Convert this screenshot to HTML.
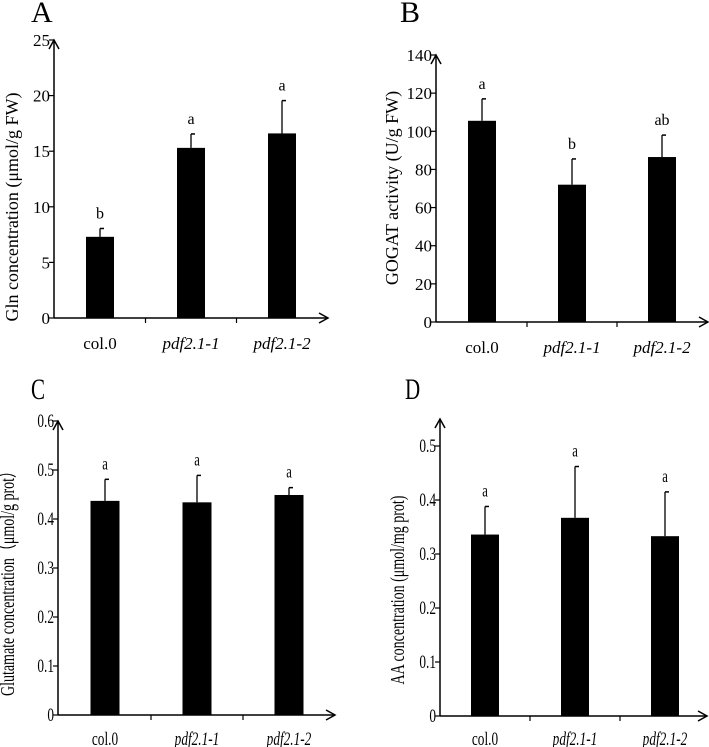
<!DOCTYPE html>
<html><head><meta charset="utf-8"><style>
html,body{margin:0;padding:0;background:#fff;}
svg{display:block;}
text{font-family:"Liberation Serif","Times New Roman",serif;}
</style></head><body>
<svg id="fig" width="709" height="747" viewBox="0 0 709 747" xmlns="http://www.w3.org/2000/svg"></svg>
<script>
const categories = ["col.0","pdf2.1-1","pdf2.1-2"];
const valuesA = [7.3, 15.3, 16.6];
const errorsA = [0.75, 1.25, 2.95];
const lettersA = ["b","a","a"];
const ticksA = [0,5,10,15,20,25];
const valuesB = [105.5, 72, 86.5];
const errorsB = [11.5, 13.5, 11.5];
const lettersB = ["a","b","ab"];
const ticksB = [0,20,40,60,80,100,120,140];
const valuesC = [0.437, 0.434, 0.449];
const errorsC = [0.044, 0.055, 0.015];
const lettersC = ["a","a","a"];
const ticksC = [0,0.1,0.2,0.3,0.4,0.5,0.6];
const valuesD = [0.336, 0.367, 0.333];
const errorsD = [0.052, 0.095, 0.082];
const lettersD = ["a","a","a"];
const ticksD = [0,0.1,0.2,0.3,0.4,0.5];

const NS="http://www.w3.org/2000/svg";
const svg=document.getElementById('fig');
function mk(tag,attrs,parent){const e=document.createElementNS(NS,tag);for(const k in attrs)e.setAttribute(k,attrs[k]);(parent||svg).appendChild(e);return e;}
function txt(str,x,y,size,anchor,sx,parent,italic){
  const e=mk('text',{x:0,y:0,'font-size':size,'text-anchor':anchor,'font-family':'Liberation Serif, serif',transform:`translate(${x},${y}) scale(${sx},1)`},parent);
  if(italic)e.setAttribute('font-style','italic');
  e.textContent=str;return e;
}
function panel(cfg){
  const g=mk('g',{});
  
  
  const y=v=>cfg.y0-(v-cfg.vmin)/(cfg.vmax-cfg.vmin)*(cfg.y0-cfg.yTop);
  const cx=i=>cfg.centers[0]+i*(cfg.centers[1]-cfg.centers[0]);
  const L=txt(cfg.letter,cfg.letterX,cfg.letterY,30,'start',cfg.sx,g);
  
  const ya=mk('line',{x1:cfg.ax,y1:cfg.y0,x2:cfg.ax,y2:cfg.axisTop,stroke:'#000','stroke-width':1.5},g);
  
  mk('polyline',{points:`${cfg.ax-5},${cfg.axisTop+9} ${cfg.ax},${cfg.axisTop} ${cfg.ax+5},${cfg.axisTop+9}`,fill:'none',stroke:'#000','stroke-width':1.5},g);
  const xa=mk('line',{x1:cfg.ax,y1:cfg.y0,x2:cfg.axisEnd,y2:cfg.y0,stroke:'#000','stroke-width':1.5},g);
  
  mk('polyline',{points:`${cfg.axisEnd-9},${cfg.y0-5} ${cfg.axisEnd},${cfg.y0} ${cfg.axisEnd-9},${cfg.y0+5}`,fill:'none',stroke:'#000','stroke-width':1.5},g);
  cfg.ticks.forEach(t=>{
    mk('line',{x1:cfg.ax-5,y1:y(t),x2:cfg.ax,y2:y(t),stroke:'#000','stroke-width':1.2},g);
    const tl=txt(String(t),cfg.ax-4,y(t)+6,cfg.tickSize,'end',cfg.sx,g);
    
  });
  const step=cfg.centers[1]-cfg.centers[0];
  for(let i=1;i<categories.length;i++){
    const tx=cx(i)-step/2;
    mk('line',{x1:tx,y1:cfg.y0,x2:tx,y2:cfg.y0+5,stroke:'#000','stroke-width':1.2},g);
  }
  categories.forEach((c,i)=>{
    const v=cfg.values[i],e=cfg.errors[i];
    const b=mk('rect',{x:cx(i)-cfg.bw/2,y:y(v),width:cfg.bw,height:cfg.y0-y(v),fill:'#000'},g);
    
    mk('line',{x1:cx(i),y1:y(v),x2:cx(i),y2:y(v+e),stroke:'#000','stroke-width':1.3},g);
    mk('line',{x1:cx(i),y1:y(v+e),x2:cx(i)+4,y2:y(v+e),stroke:'#000','stroke-width':1.5},g);
    const lt=txt(cfg.letters[i],cx(i),y(v+e)-10,cfg.tickSize-1,'middle',cfg.sx,g);
    
    const cl=txt(c,cx(i),cfg.xLabY,cfg.tickSize,'middle',cfg.sx,g,i>0);
    
  });
  const tt=mk('text',{x:0,y:0,'font-size':cfg.titleSize,'text-anchor':'middle','font-family':'Liberation Serif, serif',transform:`translate(${cfg.titleX},${cfg.titleY}) rotate(-90) scale(${cfg.sx},1)`},g);
  tt.textContent=cfg.title;
  
}
panel({name:'panel-a',letter:'A',letterX:31,letterY:22,ax:54,y0:318,yTop:40,axisTop:40,axisEnd:328,vmin:0,vmax:25,ticks:ticksA,values:valuesA,errors:errorsA,letters:lettersA,centers:[100,191],bw:28,xLabY:349,tickSize:17,sx:1,title:'Gln concentration (μmol/g FW)',titleX:18,titleY:207,titleSize:18});
panel({name:'panel-b',letter:'B',letterX:400,letterY:22,ax:436,y0:322,yTop:55,axisTop:55,axisEnd:708,vmin:0,vmax:140,ticks:ticksB,values:valuesB,errors:errorsB,letters:lettersB,centers:[482,572],bw:28,xLabY:353,tickSize:17,sx:1,title:'GOGAT  activity (U/g FW)',titleX:398,titleY:188,titleSize:18});
panel({name:'panel-c',letter:'C',letterX:31,letterY:399,ax:58,y0:715,yTop:421,axisTop:421,axisEnd:335,vmin:0,vmax:0.6,ticks:ticksC,values:valuesC,errors:errorsC,letters:lettersC,centers:[105,197],bw:29,xLabY:745,tickSize:19,sx:0.7,title:'Glutamate concentration（μmol/g prot）',titleX:14,titleY:580,titleSize:20});
panel({name:'panel-d',letter:'D',letterX:405,letterY:399,ax:440,y0:716,yTop:446,axisTop:419,axisEnd:707,vmin:0,vmax:0.5,ticks:ticksD,values:valuesD,errors:errorsD,letters:lettersD,centers:[485,575],bw:28,xLabY:745,tickSize:19,sx:0.7,title:'AA  concentration (μmol/mg prot)',titleX:404,titleY:590,titleSize:20});
</script>
</body></html>
